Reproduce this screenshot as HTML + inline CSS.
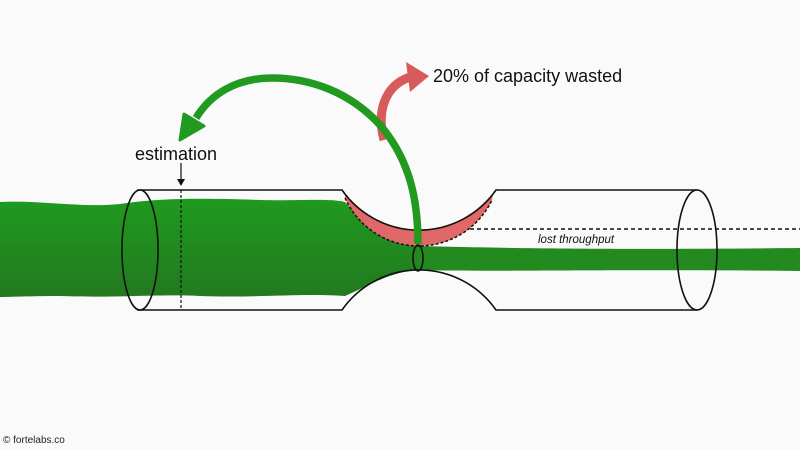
<!DOCTYPE html>
<html><head><style>
html,body{margin:0;padding:0;background:#fafafa;}
svg{display:block;}
text{font-family:"Liberation Sans",sans-serif;}
</style></head><body>
<svg width="800" height="450" viewBox="0 0 800 450">
<rect width="800" height="450" fill="#fafafa"/>
<defs>
<linearGradient id="g" x1="0" y1="0" x2="0" y2="1">
<stop offset="0" stop-color="#1f9a1f"/><stop offset="1" stop-color="#23791f"/>
</linearGradient>
</defs>
<!-- left green flow -->
<path d="M0,202 C40,200 80,208 120,204 C160,198 200,198 260,200 C300,201 330,198 345,202 C365,225 385,244 418,246 L418,270 C390,272 370,285 345,296 C300,293 260,298 200,296 C160,294 120,298 60,296 C30,296 10,297 0,297 Z" fill="url(#g)"/>
<!-- right flow -->
<path d="M418,246 C500,248 600,250 800,248 L800,271 C600,269 500,272 418,270 Z" fill="#238a1f"/>
<!-- red band -->
<path d="M345,194 A94,94 0 0 0 493,194 L492,200 A81,81 0 0 1 345,198 Z" fill="#e06868"/>
<path d="M345,198 A81,81 0 0 0 492,200" fill="none" stroke="#111" stroke-width="1.5" stroke-dasharray="3,2"/>
<!-- tube outline -->
<g fill="none" stroke="#111" stroke-width="1.6">
<path d="M137,190 L342,190 A94,94 0 0 0 496,190 L697,190"/>
<path d="M137,310 L342,310 A94,94 0 0 1 496,310 L697,310"/>
<ellipse cx="140" cy="250" rx="18" ry="60"/>
<ellipse cx="697" cy="250" rx="20" ry="60"/>
<ellipse cx="418" cy="258" rx="5" ry="13"/>
</g>
<path d="M470,229 L800,229" stroke="#111" stroke-width="1.5" stroke-dasharray="4,3"/>
<path d="M181,190 L181,310" stroke="#111" stroke-width="1.2" stroke-dasharray="3,2"/>
<path d="M181,163 L181,180" stroke="#111" stroke-width="1.2"/>
<path d="M177,179 L181,186 L185,179 Z" fill="#111"/>
<text x="135" y="160" font-size="18" fill="#111">estimation</text>
<text x="538" y="243" font-size="11.5" font-style="italic" fill="#111">lost throughput</text>
<!-- red arrow -->
<path d="M384,140 C376,110 386,85 410,77" fill="none" stroke="#d85b5b" stroke-width="9"/>
<path d="M406,62 L429,76 L410,92 Z" fill="#d85b5b"/>
<text x="433" y="82" font-size="18" fill="#111">20% of capacity wasted</text>
<!-- green arrow -->
<path d="M418,244 C418,200 410,160 380,125 C350,92 310,78 272,78 C235,78 210,95 196,118" fill="none" stroke="#22991f" stroke-width="7.5"/>
<path d="M180,140 L184,114 L204,126 Z" fill="#22991f" stroke="#22991f" stroke-width="3" stroke-linejoin="round"/>
<text x="3" y="443" font-size="10" fill="#222">© fortelabs.co</text>
</svg>
</body></html>
